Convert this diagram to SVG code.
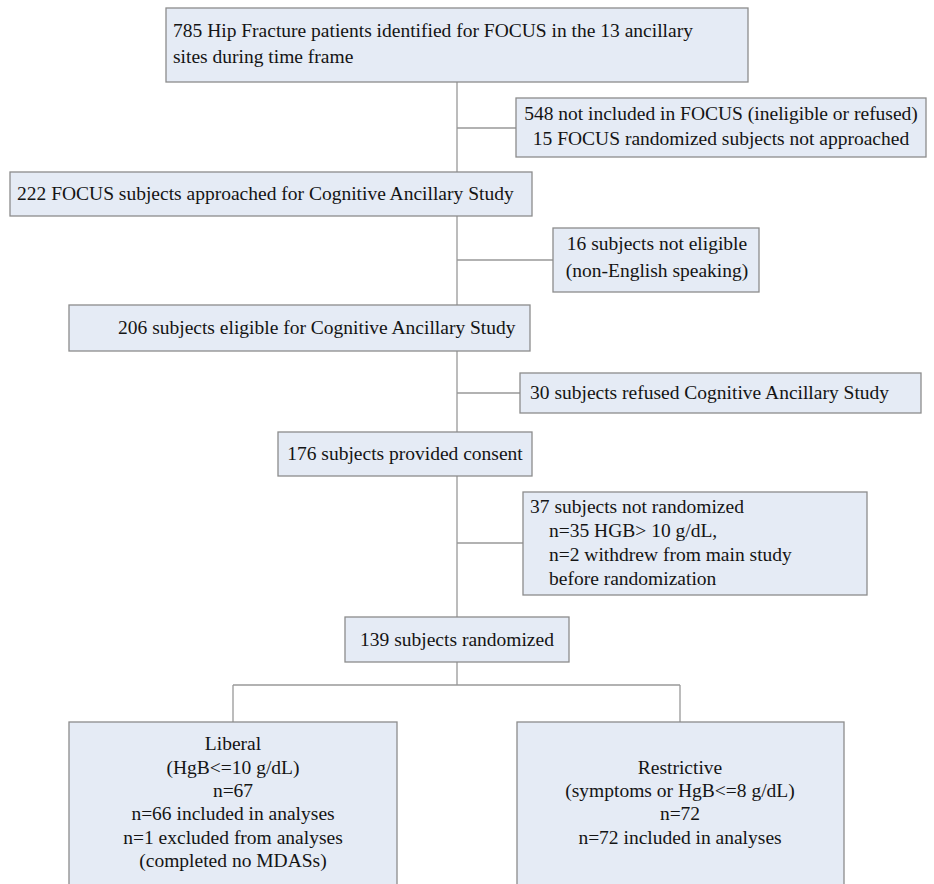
<svg xmlns="http://www.w3.org/2000/svg" width="934" height="884" viewBox="0 0 934 884">
<style>
.box{fill:#e5ebf5;stroke:#8c8c8c;stroke-width:1.3}
.t{font-family:"Liberation Serif","Times New Roman",serif;font-size:19.5px;fill:#141414}
.c{text-anchor:middle}
.ln{stroke:#999;stroke-width:1.3;fill:none}
</style>
<rect width="934" height="884" fill="#fff"/>
<g id="connectors">
<path class="ln" d="M457 82V172M457 128H516M457 216V305M457 260H553M457 351V432M457 393H520M457 476V617M457 543H523M457 662V685M233 685H680M233 685V722M680 685V722"/>
</g>
<g id="n1"><rect class="box" x="166" y="8" width="582" height="74"/>
<text class="t" x="173" y="37">785 Hip Fracture patients identified for FOCUS in the 13 ancillary</text>
<text class="t" x="173" y="63">sites during time frame</text></g>
<g id="n2"><rect class="box" x="516" y="98" width="410" height="59"/>
<text class="t c" x="721" y="120">548 not included in FOCUS (ineligible or refused)</text>
<text class="t c" x="721" y="145">15 FOCUS randomized subjects not approached</text></g>
<g id="n3"><rect class="box" x="10" y="172" width="522" height="44"/>
<text class="t" x="17" y="200">222 FOCUS subjects approached for Cognitive Ancillary Study</text></g>
<g id="n4"><rect class="box" x="553" y="228" width="206" height="64"/>
<text class="t c" x="657" y="250">16 subjects not eligible</text>
<text class="t c" x="657" y="277">(non-English speaking)</text></g>
<g id="n5"><rect class="box" x="69" y="305" width="461" height="46"/>
<text class="t" x="118" y="334">206 subjects eligible for Cognitive Ancillary Study</text></g>
<g id="n6"><rect class="box" x="520" y="373" width="401" height="40"/>
<text class="t" x="530" y="399">30 subjects refused Cognitive Ancillary Study</text></g>
<g id="n7"><rect class="box" x="278" y="432" width="254" height="44"/>
<text class="t c" x="405" y="460">176 subjects provided consent</text></g>
<g id="n8"><rect class="box" x="523" y="492" width="344" height="103"/>
<text class="t" x="530" y="513">37 subjects not randomized</text>
<text class="t" x="549" y="537">n=35 HGB&gt; 10 g/dL,</text>
<text class="t" x="549" y="561">n=2 withdrew from main study</text>
<text class="t" x="549" y="585">before randomization</text></g>
<g id="n9"><rect class="box" x="345" y="617" width="224" height="45"/>
<text class="t c" x="457" y="646">139 subjects randomized</text></g>
<g id="n10"><rect class="box" x="69" y="722" width="328" height="175"/>
<text class="t c" x="233" y="750">Liberal</text>
<text class="t c" x="233" y="774">(HgB&lt;=10 g/dL)</text>
<text class="t c" x="233" y="797">n=67</text>
<text class="t c" x="233" y="820">n=66 included in analyses</text>
<text class="t c" x="233" y="844">n=1 excluded from analyses</text>
<text class="t c" x="233" y="867">(completed no MDASs)</text></g>
<g id="n11"><rect class="box" x="517" y="722" width="327" height="175"/>
<text class="t c" x="680" y="774">Restrictive</text>
<text class="t c" x="680" y="797">(symptoms or HgB&lt;=8 g/dL)</text>
<text class="t c" x="680" y="820">n=72</text>
<text class="t c" x="680" y="844">n=72 included in analyses</text></g>
</svg>
